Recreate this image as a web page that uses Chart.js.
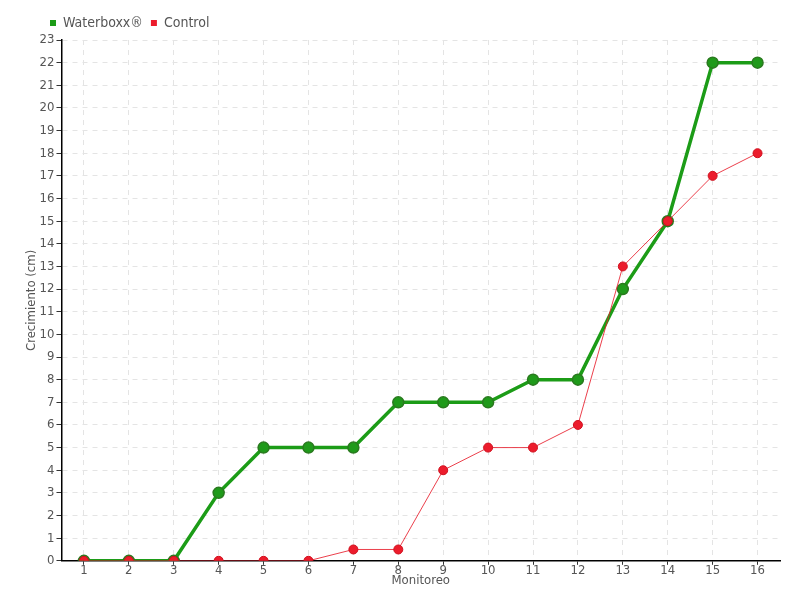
<!DOCTYPE html>
<html>
<head>
<meta charset="utf-8">
<script src="https://cdn.jsdelivr.net/npm/chart.js@4/dist/chart.umd.min.js"></script>
<style>
  html, body { margin: 0; padding: 0; background: #fff; }
  #wrap { width: 800px; height: 600px; }
</style>
</head>
<body>
<div id="wrap"><canvas id="growthChart" width="800" height="600"></canvas></div>
<script>
const monitoreo = ['1', '2', '3', '4', '5', '6', '7', '8', '9', '10', '11', '12', '13', '14', '15', '16'];
const waterboxx = [0, 0, 0, 3, 5, 5, 5, 7, 7, 7, 8, 8, 12, 15, 22, 22];
const control = [0, 0, 0, 0, 0, 0, 0.5, 0.5, 4, 5, 5, 6, 13, 15, 17, 18];

const fontFamily = '"DejaVu Sans Condensed", "Liberation Sans Narrow", sans-serif';
const ctx = document.getElementById('growthChart').getContext('2d');

// move the legend a little to the left of the plot area
const legendShift = {
    id: 'legendShift',
    afterLayout(chart) {
        const legend = chart.legend;
        if (!legend) return;
        const d = 42 - legend.left;
        legend.left += d;
        legend.right += d;
    }
};

const growthChart = new Chart(ctx, {
    type: 'line',
    data: {
        labels: monitoreo,
        datasets: [{
            label: 'Waterboxx®',
            data: waterboxx,
            borderColor: '#1c9c17',
            backgroundColor: '#1c9c17',
            borderWidth: 3.5,
            pointRadius: 5.5,
            pointBackgroundColor: '#1f9a1a',
            pointBorderColor: '#2a7a1f',
            pointBorderWidth: 1.5,
            tension: 0,
            order: 2
        }, {
            label: 'Control',
            data: control,
            borderColor: 'rgba(232, 30, 45, 0.85)',
            backgroundColor: '#ec1c2c',
            borderWidth: 1,
            pointRadius: 4.5,
            pointBackgroundColor: '#ec1c2c',
            pointBorderColor: '#d0101e',
            pointBorderWidth: 1,
            tension: 0,
            order: 1
        }]
    },
    plugins: [legendShift],
    options: {
        responsive: false,
        animation: false,
        layout: { padding: { left: 12, right: 20, top: 8, bottom: 12 } },
        plugins: {
            legend: {
                display: true,
                position: 'top',
                align: 'start',
                fullSize: false,
                labels: {
                    boxWidth: 6,
                    boxHeight: 6,
                    padding: 8,
                    color: '#555',
                    font: { family: fontFamily, size: 14 },
                    generateLabels: (chart) => chart.data.datasets.map((ds, i) => ({
                        text: ds.label,
                        fillStyle: ds.backgroundColor,
                        strokeStyle: ds.backgroundColor,
                        lineWidth: 0,
                        fontColor: '#555',
                        hidden: false,
                        datasetIndex: i
                    }))
                }
            },
            tooltip: { enabled: false }
        },
        scales: {
            x: {
                offset: true,
                grid: {
                    offset: false,
                    color: '#e4e4e4',
                    lineWidth: 1,
                    tickColor: '#333',
                    tickLength: 4
                },
                border: { display: true, color: '#000', width: 1.5, dash: [5, 5] },
                ticks: {
                    color: '#555',
                    padding: -2,
                    font: { family: fontFamily, size: 13 }
                },
                title: {
                    display: true,
                    text: 'Monitoreo',
                    color: '#555',
                    padding: { top: -4, bottom: 0 },
                    font: { family: fontFamily, size: 13 }
                }
            },
            y: {
                min: 0,
                max: 23,
                grid: {
                    color: '#e4e4e4',
                    lineWidth: 1,
                    tickColor: '#333',
                    tickLength: 5
                },
                border: { display: true, color: '#000', width: 1.5, dash: [5, 5] },
                ticks: {
                    stepSize: 1,
                    color: '#555',
                    padding: 2,
                    font: { family: fontFamily, size: 13 }
                },
                title: {
                    display: true,
                    text: 'Crecimiento (cm)',
                    color: '#555',
                    padding: { top: 12, bottom: -2 },
                    font: { family: fontFamily, size: 13 }
                }
            }
        }
    }
});
</script>
</body>
</html>
